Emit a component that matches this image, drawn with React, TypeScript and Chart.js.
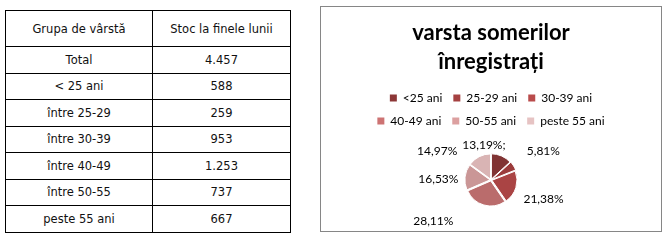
import React, { useEffect, useRef } from "react";
import { Chart, registerables } from "chart.js";

Chart.register(...registerables);

// ---- table data ----
const tableHeaders = ["Grupa de vârstă", "Stoc la finele lunii"];
const ageGroups = ["Total", "< 25 ani", "între 25-29", "între 30-39", "între 40-49", "între 50-55", "peste 55 ani"];
const stockValues = ["4.457", "588", "259", "953", "1.253", "737", "667"];

// ---- chart data ----
const chartTitle = ["varsta somerilor", "înregistrați"];
const pieCategories = ["<25 ani", "25-29 ani", "30-39 ani", "40-49 ani", "50-55 ani", "peste 55 ani"];
const pieShares = [13.19, 5.81, 21.38, 28.11, 16.53, 14.97];
const pieLabels = ["13,19%;", "5,81%", "21,38%", "28,11%", "16,53%", "14,97%"];

// ---- styles ----
const sliceColors = ["#813434", "#9B3B3B", "#AA4444", "#BA6C6C", "#CA9696", "#D9B4B4"];
const legendColors = ["#8C3737", "#A54141", "#B94B4B", "#CD7373", "#DCA0A0", "#E6C3C3"];
const labelDistance = 32;
const labelNudges: [number, number][] = [
  [-30, 17],
  [4, 1],
  [-2, 3],
  [-42, -14],
  [4, 5],
  [-28, 22],
];

const chartFont = "Lato, 'Open Sans', sans-serif";

const sliceLabelPlugin = {
  id: "sliceLabels",
  afterDatasetsDraw(chart: any) {
    const ctx = chart.ctx;
    const meta = chart.getDatasetMeta(0);
    ctx.save();
    ctx.font = `12px ${chartFont}`;
    ctx.fillStyle = "#000000";
    ctx.textAlign = "center";
    ctx.textBaseline = "middle";
    meta.data.forEach((arc: any, i: number) => {
      const p = arc.getProps(["x", "y", "startAngle", "endAngle", "outerRadius"], true);
      const mid = (p.startAngle + p.endAngle) / 2;
      const r = p.outerRadius + labelDistance;
      const x = p.x + Math.cos(mid) * r + labelNudges[i][0];
      const y = p.y + Math.sin(mid) * r + labelNudges[i][1];
      ctx.fillText(pieLabels[i], x, y);
    });
    ctx.restore();
  },
};

function PieChart() {
  const ref = useRef<HTMLCanvasElement | null>(null);
  useEffect(() => {
    if (!ref.current) return;
    const chart = new Chart(ref.current, {
      type: "pie",
      data: {
        labels: pieCategories,
        datasets: [
          {
            data: pieShares,
            backgroundColor: sliceColors,
            borderColor: "#ffffff",
            borderWidth: 1,
            offset: 4,
          },
        ],
      },
      options: {
        animation: false,
        responsive: false,
        maintainAspectRatio: false,
        radius: 25,
        layout: { padding: { left: 35, right: 35, top: 0, bottom: 8 } },
        plugins: {
          title: {
            display: true,
            text: chartTitle,
            color: "#000000",
            font: { family: chartFont, size: 22, weight: "bold", lineHeight: 29 / 22 },
            padding: { top: 11.5, bottom: 4.5 },
          },
          legend: {
            display: true,
            position: "top",
            labels: {
              boxWidth: 7,
              boxHeight: 7,
              padding: 11,
              color: "#000000",
              font: { family: chartFont, size: 12 },
              generateLabels: (c: any) =>
                pieCategories.map((t, i) => ({
                  text: t,
                  fillStyle: legendColors[i],
                  strokeStyle: legendColors[i],
                  lineWidth: 0,
                  hidden: false,
                  index: i,
                  datasetIndex: 0,
                })),
            },
          },
          tooltip: { enabled: false },
        },
      } as any,
      plugins: [sliceLabelPlugin],
    });
    return () => chart.destroy();
  }, []);
  return <canvas ref={ref} width={340} height={224} style={{ display: "block", width: 340, height: 224 }} />;
}

const cellStyle: React.CSSProperties = {
  border: "1px solid #000",
  textAlign: "center",
  verticalAlign: "middle",
  padding: 0,
};

export default function App() {
  return (
    <div
      style={{
        position: "absolute",
        left: 0,
        top: 0,
        width: 670,
        height: 244,
        background: "#ffffff",
        overflow: "hidden",
      }}
    >
      <table
        style={{
          position: "absolute",
          left: 5,
          top: 10,
          width: 285,
          height: 222,
          borderCollapse: "collapse",
          fontFamily: "'DejaVu Sans', sans-serif",
          fontSize: 11.5,
          color: "#111",
          tableLayout: "fixed",
        }}
      >
        <colgroup>
          <col style={{ width: 147 }} />
          <col style={{ width: 138 }} />
        </colgroup>
        <tbody>
          <tr style={{ height: 36 }}>
            <td style={cellStyle}>{tableHeaders[0]}</td>
            <td style={cellStyle}>{tableHeaders[1]}</td>
          </tr>
          {ageGroups.map((g, i) => (
            <tr key={g} style={{ height: 26.5 }}>
              <td style={cellStyle}>{g}</td>
              <td style={cellStyle}>{stockValues[i]}</td>
            </tr>
          ))}
        </tbody>
      </table>
      <div
        style={{
          position: "absolute",
          left: 320,
          top: 6,
          width: 342,
          height: 226,
          border: "1px solid #868686",
          boxSizing: "border-box",
        }}
      >
        <PieChart />
      </div>
    </div>
  );
}
